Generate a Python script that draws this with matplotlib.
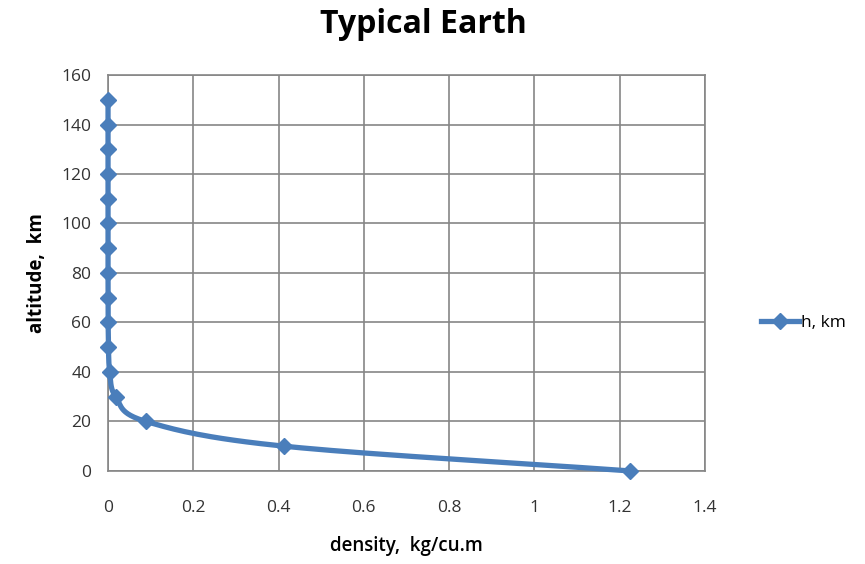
import numpy as np
import matplotlib.pyplot as plt

altitude = [0, 10, 20, 30, 40, 50, 60, 70, 80, 90, 100, 110, 120, 130, 140, 150]
density = [1.225, 0.413, 0.089, 0.018, 0.004, 0.001, 0.0003, 0.0001,
           0.00002, 0.000003, 0.0000006, 0.0000001, 0.00000002, 0.0, 0.0, 0.0]
x_ticks = [0, 0.2, 0.4, 0.6, 0.8, 1, 1.2, 1.4]
x_labels = ['0', '0.2', '0.4', '0.6', '0.8', '1', '1.2', '1.4']
y_ticks = [0, 20, 40, 60, 80, 100, 120, 140, 160]

blue = '#4a7ebb'
gray = '#868686'


def smooth(xs, ys, n=30):
    # catmull-rom curve through the points, like excel's smoothed line
    px = np.array(xs, float)
    py = np.array(ys, float)
    px = np.concatenate([[2 * px[0] - px[1]], px, [2 * px[-1] - px[-2]]])
    py = np.concatenate([[2 * py[0] - py[1]], py, [2 * py[-1] - py[-2]]])
    outx, outy = [], []
    t = np.linspace(0, 1, n)
    for i in range(1, len(px) - 2):
        for p, out in ((px, outx), (py, outy)):
            p0, p1, p2, p3 = p[i - 1], p[i], p[i + 1], p[i + 2]
            out.extend(0.5 * (2 * p1 + (-p0 + p2) * t
                              + (2 * p0 - 5 * p1 + 4 * p2 - p3) * t ** 2
                              + (-p0 + 3 * p1 - 3 * p2 + p3) * t ** 3))
    return outx, outy


plt.rcParams['font.family'] = ['Open Sans', 'DejaVu Sans']

fig = plt.figure(figsize=(8.65, 5.64), dpi=100)
ax = fig.add_axes([0.1249, 0.165, 0.690, 0.702])

sx, sy = smooth(density, altitude)
ax.plot(sx, sy, color=blue, lw=3.8, solid_capstyle='round', clip_on=False, zorder=3)
ax.plot(density, altitude, ls='none', marker='D', ms=8, color=blue, clip_on=False, zorder=4)
ax.plot([], [], color=blue, lw=3.8, marker='D', ms=8, label='h, km')

ax.set_xlim(0, 1.4)
ax.set_ylim(0, 160)
ax.set_xticks(x_ticks)
ax.set_xticklabels(x_labels)
ax.set_yticks(y_ticks)
ax.grid(True, color=gray, lw=1.2)
ax.set_axisbelow(True)
for s in ax.spines.values():
    s.set_color(gray)
    s.set_linewidth(1.2)
ax.tick_params(length=0, labelsize=12.5, colors='#333333')
ax.tick_params(axis='x', pad=21)
ax.tick_params(axis='y', pad=12)

ax.set_xlabel('density,  kg/cu.m', fontsize=13.5, fontweight='semibold', labelpad=14)
ax.set_ylabel('altitude,  km', fontsize=13.5, fontweight='bold', labelpad=10)
fig.suptitle('Typical Earth', fontsize=23, fontweight='bold', x=0.49, y=0.985)

fig.legend(loc='center left', bbox_to_anchor=(0.862, 0.427), frameon=False,
           fontsize=12.5, handlelength=2.2, handletextpad=0.1)

fig.savefig('out.png', dpi=100)
